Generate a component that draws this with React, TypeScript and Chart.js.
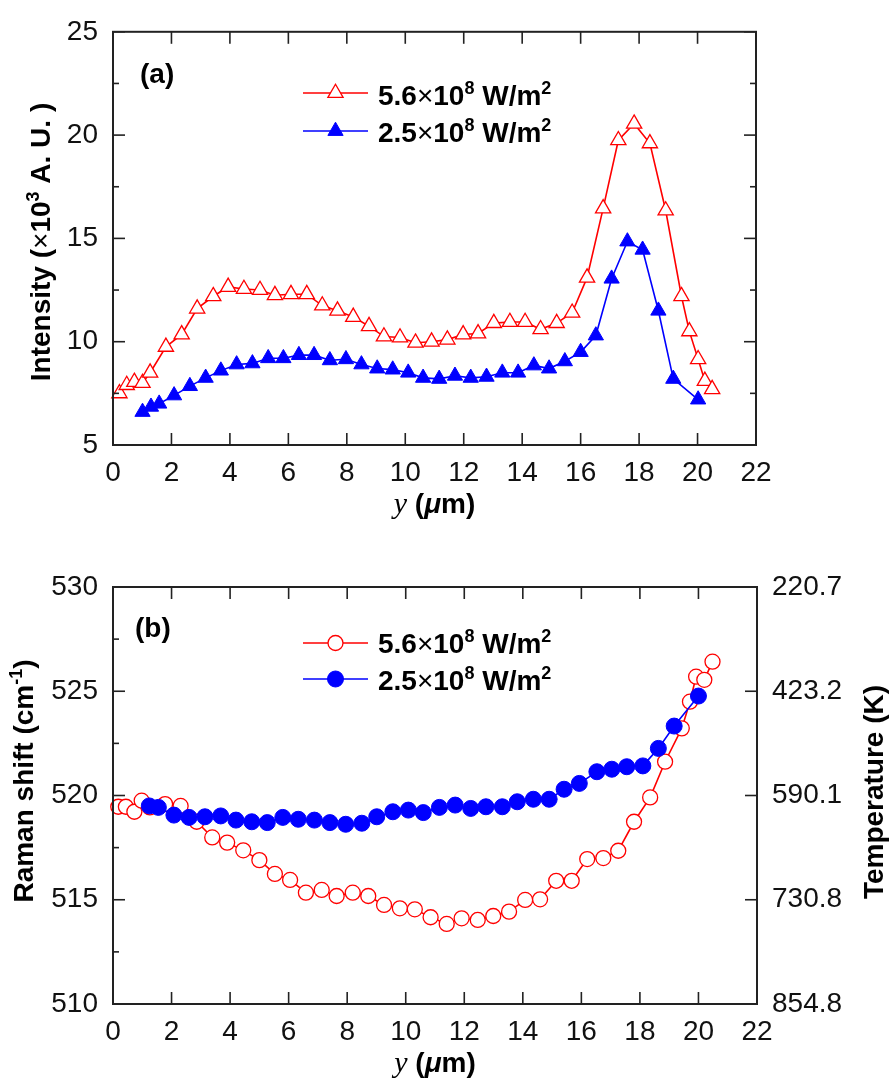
import React, { useEffect, useRef } from 'react';
import { Chart, registerables } from 'chart.js';
Chart.register(...registerables);

const SANS = '"Liberation Sans", Arial, Helvetica, sans-serif';
const SERIF = '"Liberation Serif", "Times New Roman", serif';
const RED = '#ff0000';
const BLUE = '#0000ff';
const AXIS = '#222222';

// ---------- Panel (a): Intensity ----------
const xRangeA = [0, 22];
const yRangeA = [5, 25];
const intHighX = [0.22, 0.47, 0.73, 1.01, 1.27, 1.81, 2.35, 2.88, 3.43, 3.94, 4.48, 5.03, 5.54, 6.09, 6.63, 7.16, 7.68, 8.22, 8.76, 9.27, 9.82, 10.35, 10.9, 11.44, 11.98, 12.49, 13.03, 13.58, 14.1, 14.63, 15.18, 15.71, 16.22, 16.77, 17.29, 17.83, 18.37, 18.91, 19.45, 19.72, 20.02, 20.25, 20.5];
const intHighY = [7.5, 7.9, 8.05, 8.0, 8.5, 9.75, 10.35, 11.6, 12.2, 12.65, 12.55, 12.5, 12.25, 12.3, 12.3, 11.75, 11.5, 11.2, 10.75, 10.25, 10.2, 9.95, 10.0, 10.1, 10.35, 10.4, 10.9, 10.95, 10.95, 10.6, 10.9, 11.4, 13.1, 16.45, 19.75, 20.55, 19.6, 16.35, 12.2, 10.5, 9.15, 8.1, 7.7];
const intLowX = [1.01, 1.3, 1.58, 2.09, 2.63, 3.17, 3.69, 4.23, 4.77, 5.31, 5.83, 6.36, 6.88, 7.42, 7.97, 8.5, 9.04, 9.57, 10.1, 10.61, 11.16, 11.7, 12.24, 12.78, 13.32, 13.86, 14.4, 14.92, 15.46, 16.0, 16.52, 17.06, 17.6, 18.12, 18.66, 19.17, 20.02];
const intLowY = [6.6, 6.85, 7.0, 7.4, 7.85, 8.25, 8.6, 8.9, 8.95, 9.2, 9.2, 9.35, 9.35, 9.1, 9.15, 8.9, 8.7, 8.65, 8.5, 8.25, 8.2, 8.35, 8.25, 8.3, 8.5, 8.5, 8.85, 8.7, 9.05, 9.5, 10.3, 13.05, 14.85, 14.45, 11.5, 8.2, 7.2];

// ---------- Panel (b): Raman shift ----------
const yRangeB = [510, 530];
const ramHighX = [0.18, 0.44, 0.73, 0.98, 1.26, 1.78, 2.31, 2.86, 3.39, 3.9, 4.45, 5.0, 5.53, 6.05, 6.59, 7.13, 7.64, 8.19, 8.72, 9.26, 9.8, 10.31, 10.85, 11.4, 11.91, 12.46, 12.99, 13.53, 14.08, 14.59, 15.14, 15.67, 16.2, 16.75, 17.26, 17.8, 18.35, 18.86, 19.43, 19.71, 19.92, 20.2, 20.48];
const ramHighY = [519.46, 519.46, 519.22, 519.75, 519.43, 519.59, 519.5, 518.74, 517.99, 517.74, 517.37, 516.9, 516.24, 515.95, 515.34, 515.47, 515.18, 515.34, 515.18, 514.75, 514.59, 514.54, 514.16, 513.84, 514.11, 514.03, 514.22, 514.43, 514.99, 515.02, 515.91, 515.91, 516.95, 517.0, 517.35, 518.74, 519.91, 521.62, 523.22, 524.5, 525.7, 525.55, 526.42];
const ramLowX = [1.24, 1.55, 2.08, 2.6, 3.14, 3.68, 4.2, 4.74, 5.27, 5.8, 6.33, 6.88, 7.41, 7.95, 8.5, 9.01, 9.56, 10.09, 10.6, 11.15, 11.69, 12.22, 12.74, 13.3, 13.81, 14.36, 14.9, 15.41, 15.93, 16.53, 17.04, 17.55, 18.1, 18.63, 19.17, 20.0];
const ramLowY = [519.5, 519.43, 519.06, 518.95, 518.98, 519.02, 518.82, 518.74, 518.7, 518.95, 518.86, 518.82, 518.7, 518.62, 518.67, 518.98, 519.22, 519.3, 519.18, 519.43, 519.54, 519.38, 519.46, 519.46, 519.7, 519.82, 519.82, 520.3, 520.58, 521.14, 521.26, 521.38, 521.42, 522.26, 523.33, 524.77];
const tempLabels = ['854.8', '730.8', '590.1', '423.2', '220.7'];

const legendMantissa = ['5.6', '2.5'];
const legendExp = '8';

const MAJ = 12;
const MIN = 6;

type Part = { t: string; font: string; dy?: number };

function partsWidth(ctx: CanvasRenderingContext2D, parts: Part[]) {
  let w = 0;
  for (const p of parts) {
    ctx.font = p.font;
    w += ctx.measureText(p.t).width;
  }
  return w;
}

function drawRich(ctx: CanvasRenderingContext2D, parts: Part[], x: number, y: number, align: 'left' | 'center', rotate = 0) {
  ctx.save();
  ctx.translate(x, y);
  if (rotate) ctx.rotate(rotate);
  ctx.textBaseline = 'alphabetic';
  ctx.textAlign = 'left';
  ctx.fillStyle = '#000';
  const w = partsWidth(ctx, parts);
  let cx = align === 'center' ? -w / 2 : 0;
  for (const p of parts) {
    ctx.font = p.font;
    ctx.fillText(p.t, cx, p.dy || 0);
    cx += ctx.measureText(p.t).width;
  }
  ctx.restore();
}

const B28 = `bold 28px ${SANS}`;
const R28 = `28px ${SANS}`;
const B18 = `bold 18px ${SANS}`;

function legendParts(m: string): Part[] {
  return [
    { t: m, font: B28 },
    { t: '\u00d7', font: R28 },
    { t: '10', font: B28 },
    { t: legendExp, font: B18, dy: -11 },
    { t: ' W/m', font: B28 },
    { t: '2', font: B18, dy: -11 },
  ];
}

function xTitleParts(): Part[] {
  return [
    { t: 'y', font: `italic 30px ${SERIF}` },
    { t: ' (', font: B28 },
    { t: '\u03bc', font: `italic bold 28px ${SANS}` },
    { t: 'm)', font: B28 },
  ];
}

function drawMarker(ctx: CanvasRenderingContext2D, style: string, x: number, y: number, r: number, fill: string, stroke: string, lw: number) {
  ctx.save();
  ctx.beginPath();
  if (style === 'triangle') {
    let rad = 0;
    ctx.moveTo(x + Math.sin(rad) * r, y - Math.cos(rad) * r);
    rad += (2 * Math.PI) / 3;
    ctx.lineTo(x + Math.sin(rad) * r, y - Math.cos(rad) * r);
    rad += (2 * Math.PI) / 3;
    ctx.lineTo(x + Math.sin(rad) * r, y - Math.cos(rad) * r);
    ctx.closePath();
  } else {
    ctx.arc(x, y, r, 0, Math.PI * 2);
  }
  ctx.fillStyle = fill;
  ctx.fill();
  ctx.lineWidth = lw;
  ctx.strokeStyle = stroke;
  ctx.stroke();
  ctx.restore();
}

type Decor = {
  rightMinor: boolean;
  panelLabel: string;
  panelPos: [number, number];
  legendRows: number[];
  legendText: number[];
  yTitle: { parts: Part[]; x: number; y: number };
  rTitle?: { parts: Part[]; x: number; y: number };
  xTitleY: number;
};

function makeDecor(d: Decor) {
  return {
    id: 'decor',
    afterDraw(chart: any) {
      const { ctx, chartArea: a, scales } = chart;
      ctx.save();
      ctx.strokeStyle = AXIS;
      ctx.lineWidth = 2;
      const line = (x1: number, y1: number, x2: number, y2: number) => {
        ctx.beginPath();
        ctx.moveTo(x1, y1);
        ctx.lineTo(x2, y2);
        ctx.stroke();
      };
      ctx.strokeRect(a.left, a.top, a.right - a.left, a.bottom - a.top);
      ctx.lineWidth = 1.6;
      const xs = scales.x;
      xs.ticks.forEach((t: any) => {
        const p = xs.getPixelForValue(t.value);
        line(p, a.bottom, p, a.bottom - MAJ);
        line(p, a.top, p, a.top + MAJ);
      });
      const ys = scales.y;
      const yv: number[] = ys.ticks.map((t: any) => t.value);
      yv.forEach((v, i) => {
        const p = ys.getPixelForValue(v);
        line(a.left, p, a.left + MAJ, p);
        if (d.rightMinor) line(a.right, p, a.right - MAJ, p);
        if (i < yv.length - 1) {
          const m = ys.getPixelForValue((v + yv[i + 1]) / 2);
          line(a.left, m, a.left + MIN, m);
          if (d.rightMinor) line(a.right, m, a.right - MIN, m);
        }
      });
      if (scales.yR) {
        scales.yR.ticks.forEach((t: any) => {
          const p = scales.yR.getPixelForValue(t.value);
          line(a.right, p, a.right - MAJ, p);
        });
      }
      ctx.restore();

      drawRich(ctx, [{ t: d.panelLabel, font: B28 }], d.panelPos[0], d.panelPos[1], 'left');

      const dsets = chart.data.datasets;
      const order = [1, 0];
      order.forEach((di, row) => {
        const ds = dsets[di];
        const y = d.legendRows[row];
        ctx.save();
        ctx.strokeStyle = ds.borderColor;
        ctx.lineWidth = ds.borderWidth;
        ctx.beginPath();
        ctx.moveTo(303, y);
        ctx.lineTo(368, y);
        ctx.stroke();
        ctx.restore();
        drawMarker(ctx, ds.pointStyle, 335.5, y, ds.pointRadius, ds.pointBackgroundColor, ds.pointBorderColor, ds.pointBorderWidth);
        drawRich(ctx, legendParts(ds.label), 378, d.legendText[row], 'left');
      });

      drawRich(ctx, d.yTitle.parts, d.yTitle.x, d.yTitle.y, 'center', -Math.PI / 2);
      if (d.rTitle) drawRich(ctx, d.rTitle.parts, d.rTitle.x, d.rTitle.y, 'center', -Math.PI / 2);
      drawRich(ctx, xTitleParts(), (a.left + a.right) / 2, d.xTitleY, 'center');
    },
  };
}

const tickFont = { family: SANS, size: 28 };

function toPts(xs: number[], ys: number[]) {
  return xs.map((x, i) => ({ x, y: ys[i] }));
}

function ChartA() {
  const ref = useRef<HTMLCanvasElement>(null);
  useEffect(() => {
    const chart = new Chart(ref.current!, {
      type: 'line',
      data: {
        datasets: [
          {
            label: legendMantissa[1],
            data: toPts(intLowX, intLowY),
            borderColor: BLUE,
            borderWidth: 1.6,
            pointStyle: 'triangle',
            pointRadius: 8.8,
            pointBackgroundColor: BLUE,
            pointBorderColor: BLUE,
            pointBorderWidth: 1,
            tension: 0,
            clip: false,
          } as any,
          {
            label: legendMantissa[0],
            data: toPts(intHighX, intHighY),
            borderColor: RED,
            borderWidth: 1.6,
            pointStyle: 'triangle',
            pointRadius: 8.8,
            pointBackgroundColor: '#ffffff',
            pointBorderColor: RED,
            pointBorderWidth: 1.3,
            tension: 0,
            clip: false,
          } as any,
        ],
      },
      options: {
        animation: false,
        responsive: false,
        devicePixelRatio: 1,
        events: [],
        layout: { padding: { top: 28, right: 135, left: 0, bottom: 0 } },
        plugins: { legend: { display: false }, tooltip: { enabled: false } },
        scales: {
          x: {
            type: 'linear',
            min: xRangeA[0],
            max: xRangeA[1],
            ticks: { stepSize: 2, padding: 11, font: tickFont, color: '#111', maxRotation: 0, autoSkip: false },
            grid: { display: false, drawTicks: false },
            border: { display: false },
            afterFit: (s: any) => { s.height = 96; },
          },
          y: {
            type: 'linear',
            min: yRangeA[0],
            max: yRangeA[1],
            ticks: { stepSize: 5, padding: 15, font: tickFont, color: '#111' },
            grid: { display: false, drawTicks: false },
            border: { display: false },
            afterFit: (s: any) => { s.width = 113; },
          },
        },
      } as any,
      plugins: [
        makeDecor({
          rightMinor: true,
          panelLabel: '(a)',
          panelPos: [140, 83],
          legendRows: [93, 131],
          legendText: [105, 142],
          yTitle: {
            parts: [
              { t: 'Intensity (', font: B28 },
              { t: '\u00d7', font: R28 },
              { t: '10', font: B28 },
              { t: '3', font: B18, dy: -11 },
              { t: ' A. U. )', font: B28 },
            ],
            x: 50,
            y: 242,
          },
          xTitleY: 513,
        }),
      ],
    });
    return () => chart.destroy();
  }, []);
  return <canvas ref={ref} width={891} height={541} style={{ position: 'absolute', left: 0, top: 0, width: 891, height: 541 }} />;
}

function ChartB() {
  const ref = useRef<HTMLCanvasElement>(null);
  useEffect(() => {
    const chart = new Chart(ref.current!, {
      type: 'line',
      data: {
        datasets: [
          {
            label: legendMantissa[1],
            data: toPts(ramLowX, ramLowY),
            borderColor: BLUE,
            borderWidth: 1.6,
            pointStyle: 'circle',
            pointRadius: 8,
            pointBackgroundColor: BLUE,
            pointBorderColor: BLUE,
            pointBorderWidth: 1,
            tension: 0,
            clip: false,
            yAxisID: 'y',
          } as any,
          {
            label: legendMantissa[0],
            data: toPts(ramHighX, ramHighY),
            borderColor: RED,
            borderWidth: 1.6,
            pointStyle: 'circle',
            pointRadius: 7.5,
            pointBackgroundColor: '#ffffff',
            pointBorderColor: RED,
            pointBorderWidth: 1.3,
            tension: 0,
            clip: false,
            yAxisID: 'y',
          } as any,
        ],
      },
      options: {
        animation: false,
        responsive: false,
        devicePixelRatio: 1,
        events: [],
        layout: { padding: { top: 47, right: 0, left: 0, bottom: 0 } },
        plugins: { legend: { display: false }, tooltip: { enabled: false } },
        scales: {
          x: {
            type: 'linear',
            min: xRangeA[0],
            max: xRangeA[1],
            ticks: { stepSize: 2, padding: 11, font: tickFont, color: '#111', maxRotation: 0, autoSkip: false },
            grid: { display: false, drawTicks: false },
            border: { display: false },
            afterFit: (s: any) => { s.height = 78; },
          },
          y: {
            type: 'linear',
            position: 'left',
            min: yRangeB[0],
            max: yRangeB[1],
            ticks: { stepSize: 5, padding: 15, font: tickFont, color: '#111' },
            grid: { display: false, drawTicks: false },
            border: { display: false },
            afterFit: (s: any) => { s.width = 113; },
          },
          yR: {
            type: 'linear',
            position: 'right',
            min: yRangeB[0],
            max: yRangeB[1],
            ticks: {
              stepSize: 5,
              padding: 15,
              font: tickFont,
              color: '#111',
              callback: (v: any) => {
                const i = Math.round((Number(v) - yRangeB[0]) / 5);
                return tempLabels[i] ?? '';
              },
            },
            grid: { display: false, drawTicks: false },
            border: { display: false },
            afterFit: (s: any) => { s.width = 134; },
          },
        },
      } as any,
      plugins: [
        makeDecor({
          rightMinor: false,
          panelLabel: '(b)',
          panelPos: [135, 97],
          legendRows: [103, 139],
          legendText: [113, 150],
          yTitle: {
            parts: [
              { t: 'Raman shift (cm', font: B28 },
              { t: '-1', font: B18, dy: -11 },
              { t: ')', font: B28 },
            ],
            x: 33,
            y: 241,
          },
          rTitle: {
            parts: [{ t: 'Temperature (K)', font: B28 }],
            x: 883,
            y: 252,
          },
          xTitleY: 532,
        }),
      ],
    });
    return () => chart.destroy();
  }, []);
  return <canvas ref={ref} width={891} height={542} style={{ position: 'absolute', left: 0, top: 540, width: 891, height: 542 }} />;
}

export default function App() {
  return (
    <div style={{ position: 'absolute', left: 0, top: 0, width: 891, height: 1082, background: '#fff', overflow: 'hidden' }}>
      <ChartA />
      <ChartB />
    </div>
  );
}
